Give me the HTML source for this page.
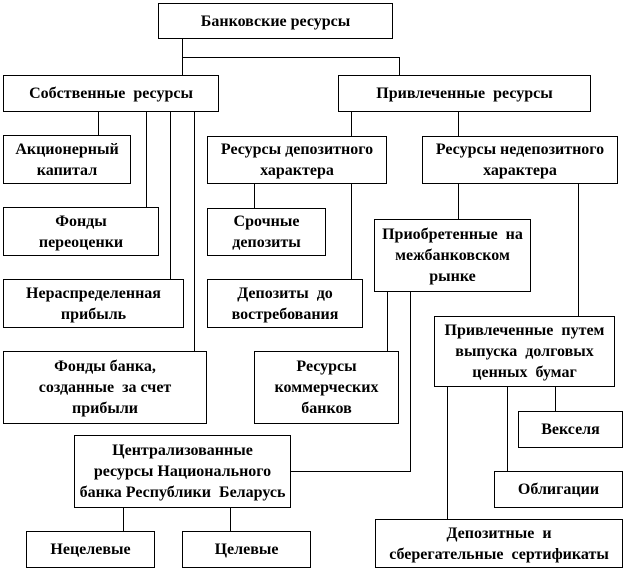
<!DOCTYPE html>
<html><head><meta charset="utf-8"><style>
body{margin:0;width:630px;height:570px;background:#fff;position:relative;overflow:hidden;font-family:"Liberation Serif",serif;font-weight:bold;font-size:16px;color:#000}
.b{position:absolute;box-sizing:border-box;border:1px solid #000;background:#fff;display:flex;align-items:center;justify-content:center;text-align:center;line-height:21px;word-spacing:0px;white-space:nowrap}
svg{position:absolute;left:0;top:0}
</style></head><body>
<svg width="630" height="570"><g stroke="#000" stroke-width="1" fill="none">
<path d="M182.5 38V75M182.5 57.5H399.5M399.5 57V75"/>
<path d="M98.5 111V135M146.5 111V207M170.5 111V279M194.5 111V351"/>
<path d="M351.5 111V136M458.5 111V136"/>
<path d="M254.5 183V208M351.5 183V279"/>
<path d="M458.5 183V219M578.5 183V316"/>
<path d="M387.5 291V351M410.5 291V471.5H290"/>
<path d="M123.5 507V531M230.5 507V531"/>
<path d="M447.5 387V519M507.5 387V471M555.5 387V411"/>
</g></svg>
<div class="b" style="left:158px;top:3px;width:235px;height:36px">Банковские ресурсы</div>
<div class="b" style="left:3px;top:75px;width:216px;height:37px">Собственные&nbsp; ресурсы</div>
<div class="b" style="left:338px;top:75px;width:253px;height:37px">Привлеченные&nbsp; ресурсы</div>
<div class="b" style="left:3px;top:135px;width:128px;height:49px">Акционерный<br>капитал</div>
<div class="b" style="left:207px;top:136px;width:180px;height:48px">Ресурсы депозитного<br>характера</div>
<div class="b" style="left:422px;top:136px;width:196px;height:48px">Ресурсы недепозитного<br>характера</div>
<div class="b" style="left:3px;top:207px;width:156px;height:49px">Фонды<br>переоценки</div>
<div class="b" style="left:207px;top:208px;width:119px;height:48px">Срочные<br>депозиты</div>
<div class="b" style="left:374px;top:219px;width:157px;height:73px">Приобретенные&nbsp; на<br>межбанковском<br>рынке</div>
<div class="b" style="left:3px;top:279px;width:181px;height:49px">Нераспределенная<br>прибыль</div>
<div class="b" style="left:207px;top:279px;width:156px;height:49px">Депозиты&nbsp; до<br>востребования</div>
<div class="b" style="left:434px;top:316px;width:181px;height:71px">Привлеченные&nbsp; путем<br>выпуска&nbsp; долговых<br>ценных&nbsp; бумаг</div>
<div class="b" style="left:3px;top:351px;width:204px;height:73px">Фонды банка,<br>созданные&nbsp; за счет<br>прибыли</div>
<div class="b" style="left:254px;top:351px;width:145px;height:73px">Ресурсы<br>коммерческих<br>банков</div>
<div class="b" style="left:518px;top:411px;width:105px;height:37px">Векселя</div>
<div class="b" style="left:74px;top:435px;width:217px;height:73px">Централизованные<br>ресурсы Национального<br>банка Республики&nbsp; Беларусь</div>
<div class="b" style="left:494px;top:471px;width:129px;height:37px">Облигации</div>
<div class="b" style="left:375px;top:519px;width:248px;height:49px">Депозитные&nbsp; и<br>сберегательные&nbsp; сертификаты</div>
<div class="b" style="left:26px;top:531px;width:129px;height:37px">Нецелевые</div>
<div class="b" style="left:182px;top:531px;width:129px;height:37px">Целевые</div>
</body></html>
